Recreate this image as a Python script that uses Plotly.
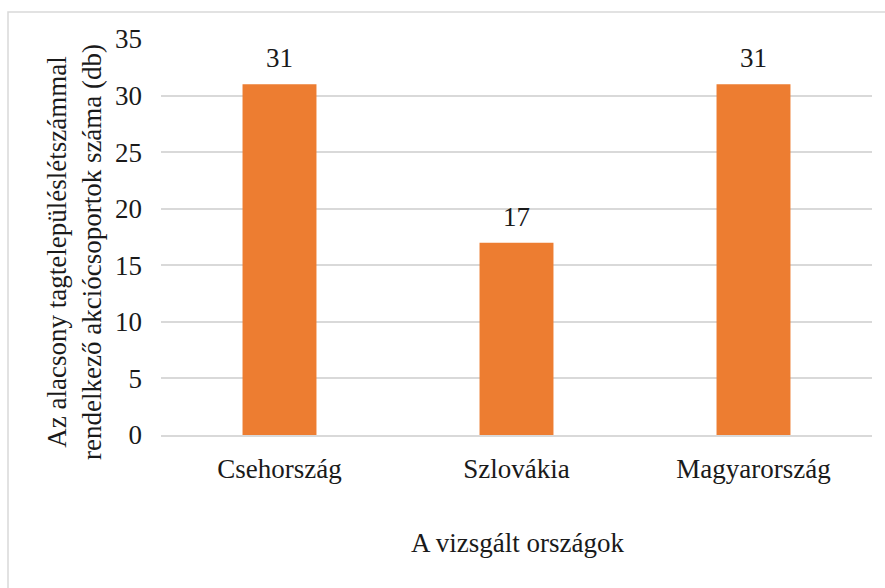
import plotly.graph_objects as go

# Data
countries = ["Csehország", "Szlovákia", "Magyarország"]
groups = [31, 17, 31]
y_ticks = [0, 5, 10, 15, 20, 25, 30, 35]

x_title = "A vizsgált országok"
y_title = "Az alacsony tagtelepüléslétszámmal<br>rendelkező akciócsoportok száma (db)"

FONT = "Liberation Serif"
FS = 27
TEXT = "#1a1a1a"
GRID = "#d9d9d9"
BAR = "#ed7d31"

W, H = 885, 588
L, R, T, B = 161, 13, 39, 153
PW, PH = W - L - R, H - T - B


def px_to_paper_x(px):
    return (px - L) / PW


def px_to_paper_y(py):
    return (H - B - py) / PH


fig = go.Figure(
    go.Bar(
        x=countries,
        y=groups,
        marker=dict(color=BAR, line=dict(width=0)),
        hoverinfo="skip",
    )
)

# value labels above bars
for c, v in zip(countries, groups):
    fig.add_annotation(
        x=c, y=v, text=str(v), showarrow=False,
        yanchor="middle", yshift=26,
        font=dict(family=FONT, size=FS, color=TEXT),
    )

# axis titles
fig.add_annotation(
    xref="paper", yref="paper",
    x=px_to_paper_x(74), y=px_to_paper_y(252),
    text=y_title, textangle=-90, showarrow=False,
    xanchor="center", yanchor="middle",
    font=dict(family=FONT, size=FS, color=TEXT),
)
fig.add_annotation(
    xref="paper", yref="paper",
    x=px_to_paper_x(517), y=px_to_paper_y(543),
    text=x_title, showarrow=False,
    xanchor="center", yanchor="middle",
    font=dict(family=FONT, size=FS, color=TEXT),
)

# outer chart frame
fig.add_shape(
    type="rect", xref="paper", yref="paper",
    x0=px_to_paper_x(8), x1=px_to_paper_x(W + 10),
    y0=px_to_paper_y(H + 10), y1=px_to_paper_y(12),
    line=dict(color=GRID, width=1.5), fillcolor="rgba(0,0,0,0)",
    layer="below",
)

fig.update_layout(
    width=W, height=H,
    margin=dict(l=L, r=R, t=T, b=B, pad=0),
    paper_bgcolor="white", plot_bgcolor="white",
    bargap=0.688,
    showlegend=False,
    font=dict(family=FONT, size=FS, color=TEXT),
)
fig.update_xaxes(
    showgrid=False, showline=True, linecolor=GRID, linewidth=2,
    ticks="", tickfont=dict(family=FONT, size=FS, color=TEXT),
    ticklabelstandoff=9, fixedrange=True,
)
fig.update_yaxes(
    range=[0, 35], tickvals=y_ticks,
    showgrid=True, gridcolor=GRID, gridwidth=1.5,
    zeroline=False, showline=False,
    ticks="", tickfont=dict(family=FONT, size=FS, color=TEXT),
    ticklabelstandoff=18, fixedrange=True,
)

fig.write_html("out.html", config={"displayModeBar": False})
